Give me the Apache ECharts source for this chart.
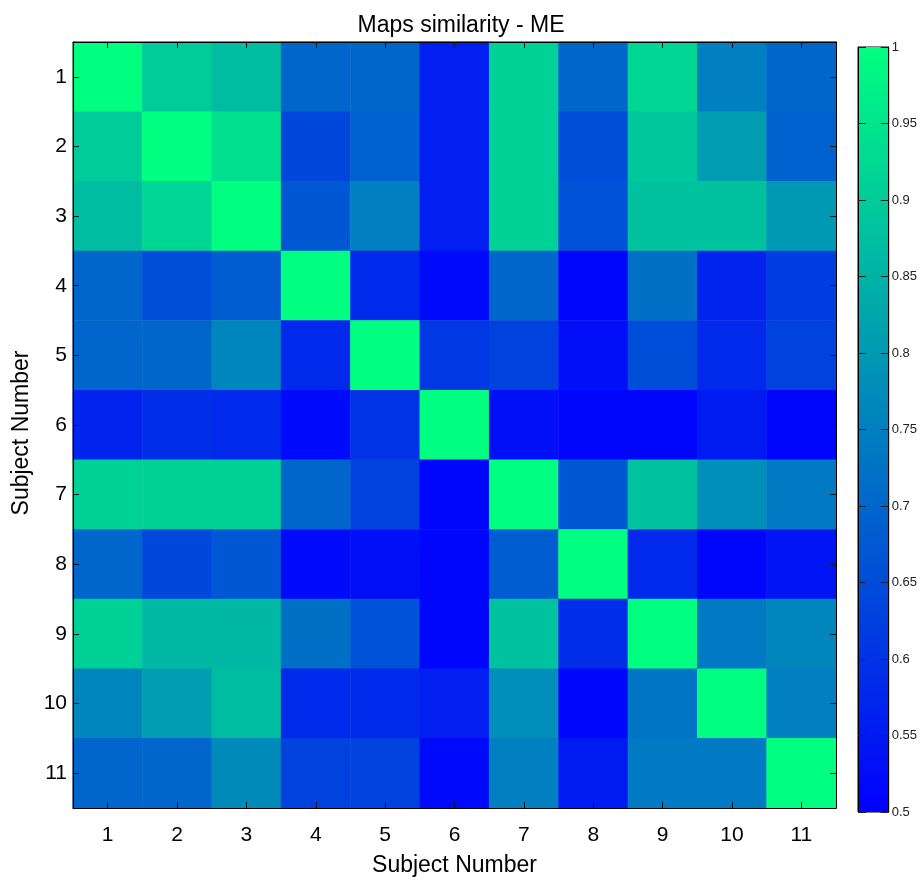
<!DOCTYPE html>
<html>
<head>
<meta charset="utf-8">
<script src="https://cdn.jsdelivr.net/npm/echarts@6/dist/echarts.min.js"></script>
<style>
  html, body { margin: 0; padding: 0; background: #fff; }
  #chart { width: 920px; height: 882px; }
</style>
</head>
<body>
<div id="chart"></div>
<script>
// Subject labels (both axes)
const subjects = ['1', '2', '3', '4', '5', '6', '7', '8', '9', '10', '11'];

// Similarity matrix, one array per row (subject 1 at the top)
const row1  = [1.00, 0.90, 0.87, 0.70, 0.70, 0.56, 0.91, 0.70, 0.92, 0.75, 0.70];
const row2  = [0.90, 1.00, 0.94, 0.64, 0.69, 0.56, 0.91, 0.65, 0.89, 0.81, 0.69];
const row3  = [0.87, 0.92, 1.00, 0.67, 0.75, 0.56, 0.91, 0.66, 0.88, 0.88, 0.80];
const row4  = [0.70, 0.65, 0.68, 1.00, 0.58, 0.52, 0.70, 0.51, 0.72, 0.57, 0.62];
const row5  = [0.70, 0.70, 0.76, 0.58, 1.00, 0.61, 0.63, 0.53, 0.65, 0.58, 0.63];
const row6  = [0.57, 0.59, 0.58, 0.52, 0.60, 1.00, 0.53, 0.51, 0.51, 0.55, 0.51];
const row7  = [0.91, 0.91, 0.91, 0.70, 0.63, 0.51, 1.00, 0.67, 0.88, 0.78, 0.74];
const row8  = [0.70, 0.64, 0.67, 0.52, 0.53, 0.51, 0.68, 1.00, 0.58, 0.51, 0.54];
const row9  = [0.91, 0.86, 0.86, 0.72, 0.66, 0.51, 0.88, 0.59, 1.00, 0.74, 0.76];
const row10 = [0.76, 0.81, 0.87, 0.58, 0.58, 0.56, 0.78, 0.51, 0.73, 1.00, 0.75];
const row11 = [0.70, 0.70, 0.77, 0.63, 0.63, 0.52, 0.75, 0.55, 0.74, 0.74, 1.00];

// Colour scale range and colorbar ticks
const colorMin = 0.5;
const colorMax = 1.0;
const colorStep = 0.05;

const rows = [row1, row2, row3, row4, row5, row6, row7, row8, row9, row10, row11];
const cells = [];
rows.forEach((r, yi) => r.forEach((v, xi) => cells.push([xi, yi, v])));

// "winter" colormap end points
const cLow = '#0000ff';
const cHigh = '#00ff80';

const font = '"Liberation Sans", Arial, Helvetica, sans-serif';
const tickStyle = { show: true, inside: true, length: 6, alignWithLabel: true, lineStyle: { color: '#111', width: 1 } };
const lineStyle = { show: true, lineStyle: { color: '#000', width: 1 } };

const chart = echarts.init(document.getElementById('chart'), null, { renderer: 'canvas' });
chart.setOption({
  backgroundColor: '#fff',
  animation: false,
  title: {
    text: 'Maps similarity - ME',
    left: 456, textAlign: 'center', top: 9,
    textStyle: { fontFamily: font, fontSize: 23, fontWeight: 'normal', color: '#000' }
  },
  grid: [
    { left: 73, right: 84, top: 42, bottom: 71, show: true, borderColor: '#000', borderWidth: 1 },
    { left: 858, width: 31, top: 47, bottom: 70, show: true, borderColor: '#000', borderWidth: 1 }
  ],
  visualMap: {
    show: false, type: 'continuous', seriesIndex: 0,
    min: colorMin, max: colorMax,
    inRange: { color: [cLow, cHigh] }
  },
  xAxis: [
    {
      type: 'category', data: subjects, gridIndex: 0, position: 'bottom', z: 10,
      axisLine: lineStyle, axisTick: tickStyle, splitLine: { show: false },
      axisLabel: { fontFamily: font, fontSize: 21, color: '#000', margin: 17 },
      name: 'Subject Number', nameLocation: 'middle', nameGap: 46,
      nameTextStyle: { fontFamily: font, fontSize: 23, color: '#000' }
    },
    {
      type: 'category', data: subjects, gridIndex: 0, position: 'top', z: 10,
      axisLine: lineStyle, axisTick: tickStyle, axisLabel: { show: false }
    },
    {
      type: 'category', data: ['bar'], gridIndex: 1,
      axisLine: { show: false }, axisTick: { show: false }, axisLabel: { show: false }
    }
  ],
  yAxis: [
    {
      type: 'category', data: subjects, gridIndex: 0, inverse: true, position: 'left', z: 10,
      axisLine: lineStyle, axisTick: tickStyle, splitLine: { show: false },
      axisLabel: { fontFamily: font, fontSize: 21, color: '#000', margin: 6 },
      name: 'Subject Number', nameLocation: 'middle', nameGap: 33, nameRotate: 90,
      nameTextStyle: { fontFamily: font, fontSize: 23, color: '#000', padding: [0, 16, 0, 0] }
    },
    {
      type: 'category', data: subjects, gridIndex: 0, inverse: true, position: 'right', z: 10,
      axisLine: lineStyle, axisTick: tickStyle, axisLabel: { show: false }
    },
    {
      type: 'value', gridIndex: 1, position: 'right', z: 10,
      min: colorMin, max: colorMax, interval: colorStep,
      axisLine: lineStyle, splitLine: { show: false },
      axisTick: { show: true, inside: true, length: 8, lineStyle: { color: '#222' } },
      axisLabel: { fontFamily: font, fontSize: 13, color: '#222', margin: 3 }
    },
    {
      type: 'value', gridIndex: 1, position: 'left', z: 10,
      min: colorMin, max: colorMax, interval: colorStep,
      axisLine: lineStyle, splitLine: { show: false },
      axisTick: { show: true, inside: true, length: 8, lineStyle: { color: '#222' } },
      axisLabel: { show: false }
    }
  ],
  series: [
    {
      type: 'heatmap', xAxisIndex: 0, yAxisIndex: 0,
      data: cells,
      itemStyle: { borderWidth: 0 },
      emphasis: { disabled: true },
      silent: true
    },
    {
      // colorbar strip spanning the full colour range
      type: 'bar', xAxisIndex: 2, yAxisIndex: 2,
      data: [colorMax], barWidth: '100%', silent: true,
      itemStyle: {
        color: new echarts.graphic.LinearGradient(0, 1, 0, 0, [
          { offset: 0, color: cLow }, { offset: 1, color: cHigh }
        ])
      }
    }
  ]
});
</script>
</body>
</html>
